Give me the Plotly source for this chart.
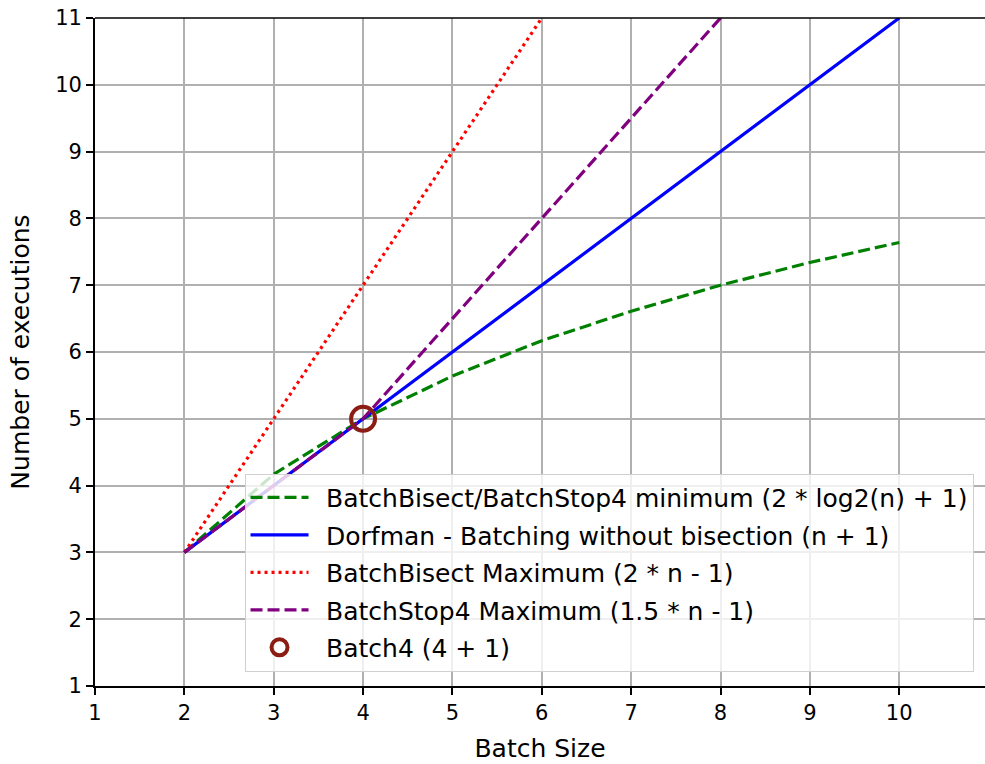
import plotly.graph_objects as go

# Data
n_min = [2, 3, 4, 5, 6, 7, 8, 9, 10]
y_min = [3, 4.17, 5, 5.64, 6.17, 6.61, 7, 7.34, 7.64]

n_dorf = [2, 3, 4, 5, 6, 7, 8, 9, 10]
y_dorf = [3, 4, 5, 6, 7, 8, 9, 10, 11]

n_bisect_max = [2, 3, 4, 5, 6]
y_bisect_max = [3, 5, 7, 9, 11]

n_stop4_max = [2, 3, 4, 5, 6, 7, 8]
y_stop4_max = [3, 4, 5, 6.5, 8, 9.5, 11]

n_batch4 = [4]
y_batch4 = [5]

x_ticks = [1, 2, 3, 4, 5, 6, 7, 8, 9, 10]
y_ticks = [1, 2, 3, 4, 5, 6, 7, 8, 9, 10, 11]

FONT = "DejaVu Sans"
LW = 3.2
PAD = "\u2002"  # gap between legend handle and label

fig = go.Figure()
fig.add_trace(go.Scatter(x=n_min, y=y_min, mode="lines",
                         line=dict(color="green", width=LW, dash="12px,5px"),
                         name=PAD + "BatchBisect/BatchStop4 minimum (2 * log2(n) + 1)",
                         legendgroup="a"))
fig.add_trace(go.Scatter(x=n_dorf, y=y_dorf, mode="lines",
                         line=dict(color="blue", width=LW),
                         name=PAD + "Dorfman - Batching without bisection (n + 1)",
                         legendgroup="b"))
fig.add_trace(go.Scatter(x=n_bisect_max, y=y_bisect_max, mode="lines",
                         line=dict(color="red", width=LW, dash="3px,4px"),
                         name=PAD + "BatchBisect Maximum (2 * n - 1)",
                         legendgroup="c"))
fig.add_trace(go.Scatter(x=n_stop4_max, y=y_stop4_max, mode="lines",
                         line=dict(color="purple", width=LW, dash="12px,5px"),
                         name=PAD + "BatchStop4 Maximum (1.5 * n - 1)",
                         legendgroup="d"))
fig.add_trace(go.Scatter(x=n_batch4, y=y_batch4, mode="markers",
                         marker=dict(symbol="circle-open", size=24, color="#8B1E14",
                                     line=dict(width=4, color="#8B1E14")),
                         name=PAD + "Batch4 (4 + 1)",
                         legendgroup="e"))

axis_common = dict(
    showgrid=True, gridcolor="#b0b0b0", gridwidth=1.7,
    zeroline=False, showline=True, linecolor="black", linewidth=1.7,
    ticks="outside", ticklen=7, tickwidth=1.7, tickcolor="black",
    tickfont=dict(family=FONT, size=21, color="black"),
    title_font=dict(family=FONT, size=25, color="black"),
    automargin=False, ticklabeloverflow="allow",
)

fig.update_xaxes(range=[1, 10.96], tickvals=x_ticks, title_text="Batch Size",
                 title_standoff=15, **axis_common)
fig.update_yaxes(range=[1, 11], tickvals=y_ticks, title_text="Number of executions",
                 title_standoff=18, **axis_common)

fig.add_shape(type="line", xref="paper", yref="paper", x0=0, x1=1, y0=1, y1=1,
              line=dict(color="black", width=1.7))

fig.update_layout(
    width=985, height=764,
    margin=dict(l=95, r=0, t=18, b=78),
    plot_bgcolor="white", paper_bgcolor="white",
    font=dict(family=FONT, size=21, color="black"),
    showlegend=True,
    legend=dict(
        x=0.168, y=0.318, xanchor="left", yanchor="top",
        bgcolor="rgba(255,255,255,0.8)", bordercolor="#d0d0d0", borderwidth=1,
        font=dict(family=FONT, size=25, color="black"),
        traceorder="grouped", tracegroupgap=2,
        itemwidth=58,
    ),
)

fig.write_html("out.html", config={"displayModeBar": False},
               post_script="document.body.style.margin='0';document.body.style.overflow='hidden';")
